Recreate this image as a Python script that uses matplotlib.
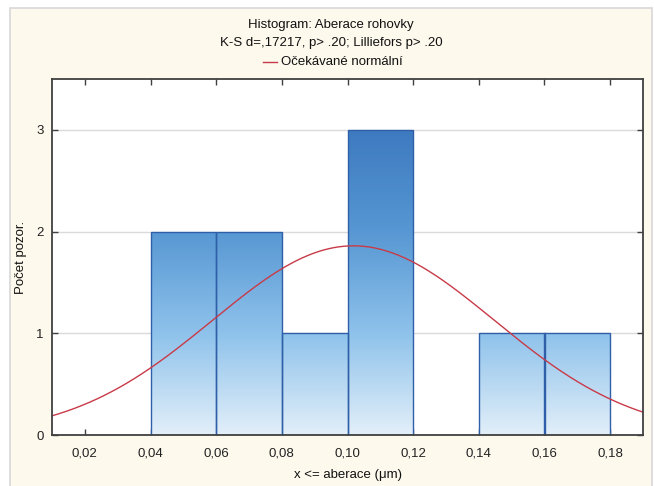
import numpy as np
import matplotlib
matplotlib.use("Agg")
import matplotlib.pyplot as plt
from matplotlib.colors import LinearSegmentedColormap
from matplotlib.patches import Rectangle
from matplotlib.lines import Line2D

plt.rcParams['font.family'] = ['Liberation Sans', 'DejaVu Sans']

# histogram data
bin_edges = [0.04, 0.06, 0.08, 0.10, 0.12, 0.14, 0.16, 0.18]
counts = [2, 2, 1, 3, 0, 1, 1]
x_ticks = [0.02, 0.04, 0.06, 0.08, 0.10, 0.12, 0.14, 0.16, 0.18]
y_ticks = [0, 1, 2, 3]

# expected normal curve parameters (estimated from the drawn curve)
fit_mean = 0.1018
fit_sd = 0.0429
n_obs = sum(counts)
bin_width = 0.02

title_lines = ["Histogram: Aberace rohovky", "K-S d=,17217, p> .20; Lilliefors p> .20"]
legend_label = "Očekávané normální"
xlabel = "x <= aberace (μm)"
ylabel = "Počet pozor."

W, H = 654, 486
fs = 9.5
red = "#c83a48"
fig = plt.figure(figsize=(W / 100, H / 100), dpi=100, facecolor="white")

# cream panel with thin grey frame
fig.patches.append(Rectangle((9.5 / W, -0.01), (652 - 9.5) / W, (486 - 8) / H + 0.01,
                             transform=fig.transFigure, facecolor="#fdf9ed",
                             edgecolor="#d8d8d8", linewidth=1.2, zorder=-5))

ax = fig.add_axes([52 / W, 1 - 435 / H, (643 - 52) / W, (435 - 79) / H])
ax.set_zorder(2)
ax.set_facecolor("white")

for y in y_ticks[1:]:
    ax.axhline(y, color="#dadada", lw=1.0, zorder=1)

# gradient depends on height in data units (light at 0, dark at 3)
cmap = LinearSegmentedColormap.from_list(
    "bars", [(0, "#e2eff9"), (1 / 3, "#8ec2eb"), (2 / 3, "#5797d3"), (1, "#3d7ac0")])
ymax_grad = 3.0
for left, right, c in zip(bin_edges[:-1], bin_edges[1:], counts):
    if c == 0:
        continue
    grad = np.linspace(0, c / ymax_grad, 200).reshape(-1, 1)
    im = ax.imshow(grad, extent=(left, right, 0, c), origin="lower", aspect="auto",
                   cmap=cmap, vmin=0, vmax=1, zorder=2)
    rect = Rectangle((left, 0), right - left, c, facecolor="none",
                     edgecolor="#2e5fa8", lw=1.0, zorder=3)
    ax.add_patch(rect)
    im.set_clip_path(rect)

xs = np.linspace(0.01, 0.19, 400)
pdf = n_obs * bin_width / (fit_sd * np.sqrt(2 * np.pi)) * np.exp(-0.5 * ((xs - fit_mean) / fit_sd) ** 2)
ax.plot(xs, pdf, color=red, lw=1.0, zorder=4)

ax.set_xlim(0.01, 0.19)
ax.set_ylim(0, 3.5)
ax.set_xticks(x_ticks)
ax.set_xticklabels([f"{v:.2f}".replace(".", ",") for v in x_ticks])
ax.set_yticks(y_ticks)
ax.tick_params(direction="in", length=4, width=1, colors="#404040", labelcolor="#222222",
               labelsize=fs, top=True, right=True, pad=6)
ax.tick_params(axis="x", pad=9)
for s in ax.spines.values():
    s.set_color("#404040")
    s.set_linewidth(1.3)
    s.set_zorder(5)

ax.set_xlabel(xlabel, fontsize=fs, color="#111111")
ax.xaxis.set_label_coords(0.5, (435 - 475) / 356, transform=ax.transAxes)
ax.xaxis.label.set_va("center")
ax.set_ylabel(ylabel, fontsize=fs, color="#111111")
ax.yaxis.set_label_coords((21 - 52) / 591, 0.5, transform=ax.transAxes)
ax.yaxis.label.set_va("center")

fig.text(331 / W, 1 - 25 / H, title_lines[0], ha="center", va="center", fontsize=fs, color="#111111")
fig.text(331 / W, 1 - 43 / H, title_lines[1], ha="center", va="center", fontsize=fs, color="#111111")
fig.add_artist(Line2D([263 / W, 277 / W], [1 - 62 / H, 1 - 62 / H],
                      transform=fig.transFigure, color=red, lw=1.0))
fig.text(281 / W, 1 - 62 / H, legend_label, ha="left", va="center", fontsize=fs, color="#111111")

fig.savefig("out.png", dpi=100, facecolor=fig.get_facecolor())
